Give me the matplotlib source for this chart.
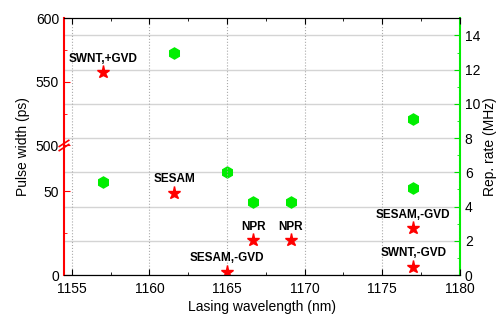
import numpy as np
import matplotlib.pyplot as plt

plt.rcParams['font.family'] = ['Liberation Sans', 'DejaVu Sans']

# pulse width data (stars, left axis)
pw_wl = [1157.0, 1161.6, 1165.0, 1166.7, 1169.1, 1177.0, 1177.0]
pw_ps = [558, 49, 2, 21, 21, 28, 5]
pw_lab = ['SWNT,+GVD', 'SESAM', 'SESAM,-GVD', 'NPR', 'NPR', 'SESAM,-GVD', 'SWNT,-GVD']

# repetition rate data (hexagons, right axis)
rr_wl = [1157.0, 1161.6, 1165.0, 1166.7, 1169.1, 1177.0, 1177.0]
rr_mhz = [5.45, 13.0, 6.0, 4.25, 4.25, 5.1, 9.1]

# broken left axis: 0..B linear, then 500..600 squeezed above B
B = 77.1
K = 0.757


def fwd(y):
    y = np.asarray(y, dtype=float)
    return np.where(y <= B, y, np.where(y >= 500, B + (y - 500) * K, B))


def inv(z):
    z = np.asarray(z, dtype=float)
    return np.where(z <= B, z, 500 + (z - B) / K)


fig = plt.figure(figsize=(4.98, 3.2), dpi=100)
ax = fig.add_axes([0.1285, 0.1406, 0.795, 0.8022])
ax2 = ax.twinx()

ax.set_yscale('function', functions=(fwd, inv))
ax.set_ylim(0, 600)
ax.set_xlim(1154.5, 1180)
ax2.set_ylim(0, 15)

ax.set_zorder(ax2.get_zorder() + 1)
ax.patch.set_visible(False)

ax.set_yticks([0, 50, 500, 550, 600])
ax.set_yticks([25, 525, 575], minor=True)
ax.set_xticks(np.arange(1155, 1181, 5))
ax.set_xticks(np.arange(1157.5, 1180, 5), minor=True)
ax2.set_yticks(np.arange(0, 15, 2))
ax2.set_yticks(np.arange(1, 15, 2), minor=True)

ax.tick_params(axis='x', which='both', direction='in', top=True, labelsize=10,
               color='black', pad=5)
ax.tick_params(axis='x', which='major', length=4)
ax.tick_params(axis='x', which='minor', length=2.5)
ax.tick_params(axis='y', which='both', direction='in', color='red', labelsize=10)
ax.tick_params(axis='y', which='major', length=4)
ax.tick_params(axis='y', which='minor', length=2.5)
ax2.tick_params(axis='y', which='both', direction='in', color='#00dd00', labelsize=10)
ax2.tick_params(axis='y', which='major', length=4)
ax2.tick_params(axis='y', which='minor', length=2.5)

ax.spines['left'].set_color('red')
ax.spines['left'].set_linewidth(1.5)
ax2.spines['right'].set_color('#00ee00')
ax2.spines['right'].set_linewidth(1.5)
ax2.spines['left'].set_visible(False)
ax.spines['right'].set_visible(False)

# grids
ax.grid(axis='x', which='major', linestyle=':', color='#aaaaaa', linewidth=0.8)
ax2.grid(axis='y', which='major', linestyle='-', color='#d4d4d4', linewidth=1)

ax2.plot(rr_wl, rr_mhz, linestyle='none', marker='h', markersize=8,
         color='#00ee00', markeredgecolor='#00ee00')
ax.plot(pw_wl, pw_ps, linestyle='none', marker='*', markersize=9.5,
        color='red', markeredgecolor='red')

for x, y, t in zip(pw_wl, pw_ps, pw_lab):
    ax.annotate(t, (x, y), xytext=(0, 9.5), textcoords='offset points',
                ha='center', va='center', fontsize=8.5, fontweight='bold')

# break marks on left spine
yb = fwd(B) / fwd(600)
for dy in (-0.008, 0.008):
    ax.plot([-0.012, 0.012], [yb + dy - 0.012, yb + dy + 0.012],
            transform=ax.transAxes, color='red', linewidth=1.2, clip_on=False, zorder=5)

ax.set_xlabel('Lasing wavelength (nm)', fontsize=10, labelpad=3)
ax.set_ylabel('Pulse width (ps)', fontsize=10)
ax2.set_ylabel('Rep. rate (MHz)', fontsize=10, labelpad=2)

fig.savefig('out.png', dpi=100)
